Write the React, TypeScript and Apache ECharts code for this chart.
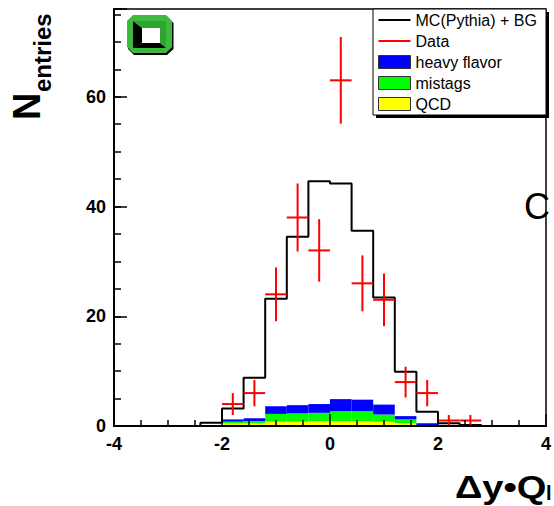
import React, { useEffect, useRef } from "react";
import * as echarts from "echarts";

// Monte Carlo (Pythia + backgrounds) histogram: lower bin edges and contents
const mcBinLow = [-2.4, -2.0, -1.6, -1.2, -0.8, -0.4, 0.0, 0.4, 0.8, 1.2, 1.6, 2.0, 2.4];
const mcCounts = [0.6, 3.2, 8.8, 23.2, 34.5, 44.6, 44.2, 35.6, 23.4, 9.9, 2.6, 0.5, 0.2];

// Stacked background components (drawn bottom to top: QCD, mistags, heavy flavor)
const bgBinLow = [-2.0, -1.6, -1.2, -0.8, -0.4, 0.0, 0.4, 0.8, 1.2, 1.6];
const qcdCounts = [0.5, 0.5, 0.8, 0.8, 0.9, 0.9, 0.9, 0.8, 0.5, 0.0];
const mistagCounts = [0.3, 0.4, 1.4, 1.5, 1.5, 1.8, 1.8, 1.3, 0.7, 0.0];
const heavyCounts = [0.4, 0.5, 1.4, 1.5, 1.6, 2.2, 2.1, 1.8, 0.6, 0.5];

// Measured data: bin centres, entries and statistical errors
const dataX = [-1.8, -1.4, -1.0, -0.6, -0.2, 0.2, 0.6, 1.0, 1.4, 1.8, 2.2, 2.6];
const dataCounts = [4, 6, 24, 38, 32, 63, 26, 23, 8, 6, 1, 1];
const dataErrors = [2.0, 2.4, 4.9, 6.2, 5.7, 7.9, 5.1, 4.8, 2.8, 2.4, 1.0, 1.0];

const binWidth = 0.4;

const FONT = '"Liberation Sans", Arial, Helvetica, sans-serif';
const BLACK = "#000000";

const seriesNames = ["MC(Pythia) + BG", "Data", "heavy flavor", "mistags", "QCD"];
const bgColors = { heavy: "#0000ff", mistags: "#00ff00", qcd: "#ffff00" };

function stackedBins(layers: number[][], index: number) {
  return bgBinLow.map((low, i) => {
    let base = 0;
    for (let k = 0; k < index; k++) base += layers[k][i];
    return [low, low + binWidth, base, base + layers[index][i]];
  });
}

function buildOption() {
  const layers = [qcdCounts, mistagCounts, heavyCounts];

  // step outline of the MC histogram
  const mcPoints: number[][] = [[mcBinLow[0], 0]];
  mcBinLow.forEach((low, i) => mcPoints.push([low, mcCounts[i]]));
  mcPoints.push([mcBinLow[mcBinLow.length - 1] + binWidth, 0]);

  const binSeries = (name: string, layerIndex: number, color: string) => ({
    name,
    type: "custom",
    z: 2,
    itemStyle: { color },
    encode: { x: [0, 1], y: [2, 3] },
    data: stackedBins(layers, layerIndex),
    renderItem: (_params: any, api: any) => {
      const p0 = api.coord([api.value(0), api.value(3)]);
      const p1 = api.coord([api.value(1), api.value(2)]);
      return {
        type: "rect",
        shape: { x: p0[0], y: p0[1], width: p1[0] - p0[0], height: p1[1] - p0[1] },
        style: { fill: color },
      };
    },
  });

  const tickLine = { color: BLACK, width: 1.5 };

  const logoPoly = (pts: number[][], fill: string) => ({
    type: "polygon",
    shape: { points: pts },
    style: { fill },
  });

  return {
    animation: false,
    backgroundColor: "#ffffff",
    grid: {
      left: 114,
      right: 6,
      top: 9,
      bottom: 80,
      show: true,
      borderColor: BLACK,
      borderWidth: 1.5,
      backgroundColor: "transparent",
    },
    xAxis: [
      {
        type: "value",
        min: -4,
        max: 4,
        interval: 2,
        position: "bottom",
        z: 5,
        axisLine: { show: true, onZero: false, lineStyle: { color: BLACK, width: 2 } },
        axisTick: { show: true, inside: true, length: 12, lineStyle: tickLine },
        minorTick: { show: true, splitNumber: 4, length: 6, lineStyle: tickLine },
        axisLabel: { margin: 9, fontFamily: FONT, fontSize: 18, fontWeight: "bold", color: BLACK },
        splitLine: { show: false },
      },
    ],
    yAxis: [
      {
        type: "value",
        min: 0,
        max: 76,
        interval: 20,
        position: "left",
        z: 5,
        axisLine: { show: true, onZero: false, lineStyle: { color: BLACK, width: 2 } },
        axisTick: { show: true, inside: true, length: 13, lineStyle: tickLine },
        axisLabel: {
          margin: 8,
          fontFamily: FONT,
          fontSize: 18,
          fontWeight: "bold",
          color: BLACK,
          formatter: (v: number) => (v % 20 === 0 ? String(v) : ""),
        },
        splitLine: { show: false },
      },
      {
        type: "value",
        min: 0,
        max: 76,
        interval: 5,
        position: "left",
        z: 5,
        axisLine: { show: false, onZero: false },
        axisTick: { show: true, inside: true, length: 7, lineStyle: tickLine },
        axisLabel: { show: false },
        splitLine: { show: false },
      },
    ],
    legend: {
      orient: "vertical",
      left: 373,
      top: 9,
      padding: [3, 6, 3, 5],
      itemGap: 5,
      itemWidth: 32,
      itemHeight: 13,
      selectedMode: false,
      z: 6,
      textStyle: { fontFamily: FONT, fontSize: 16, color: BLACK },
      data: [
        { name: seriesNames[0], icon: "path://M0,0H32V2H0Z", itemStyle: { color: BLACK } },
        { name: seriesNames[1], icon: "path://M0,0H32V2H0Z", itemStyle: { color: "#ff0000" } },
        { name: seriesNames[2], icon: "rect", itemStyle: { color: bgColors.heavy, borderColor: "#333", borderWidth: 1 } },
        { name: seriesNames[3], icon: "rect", itemStyle: { color: bgColors.mistags, borderColor: "#333", borderWidth: 1 } },
        { name: seriesNames[4], icon: "rect", itemStyle: { color: bgColors.qcd, borderColor: "#333", borderWidth: 1 } },
      ],
    },
    graphic: [
      // legend frame with drop shadow
      { type: "rect", z: 5, shape: { x: 376, y: 12, width: 173, height: 106 }, style: { fill: BLACK } },
      {
        type: "rect",
        z: 5,
        shape: { x: 373, y: 9, width: 173, height: 106 },
        style: { fill: "#ffffff", stroke: BLACK, lineWidth: 1 },
      },
      // y-axis title
      {
        type: "text",
        x: 27,
        y: 120,
        rotation: Math.PI / 2,
        style: { text: "N", fontFamily: FONT, fontSize: 38, fontWeight: "bold", fill: BLACK, align: "left", verticalAlign: "middle" },
      },
      {
        type: "text",
        x: 42,
        y: 92,
        rotation: Math.PI / 2,
        style: { text: "entries", fontFamily: FONT, fontSize: 24, fontWeight: "bold", fill: BLACK, align: "left", verticalAlign: "middle" },
      },
      // x-axis title
      {
        type: "text",
        x: 455,
        y: 487,
        scaleX: 1.19,
        style: { text: "Δy•Q", fontFamily: FONT, fontSize: 32, fontWeight: "bold", fill: BLACK, align: "left", verticalAlign: "middle" },
      },
      {
        type: "text",
        x: 546,
        y: 493,
        style: { text: "l", fontFamily: FONT, fontSize: 20, fontWeight: "bold", fill: BLACK, align: "left", verticalAlign: "middle" },
      },
      {
        type: "text",
        x: 524,
        y: 206,
        style: { text: "C", fontFamily: FONT, fontSize: 36, fill: BLACK, align: "left", verticalAlign: "middle" },
      },
      // logo
      {
        type: "group",
        x: 127,
        y: 15,
        children: [
          logoPoly([[7, 1.5], [40, 1.5], [46.5, 8], [46.5, 34], [40, 40], [7, 40], [1, 34], [1, 8]], BLACK),
          logoPoly([[6, 0], [39, 0], [45, 6], [45, 32], [39, 38], [6, 38], [0, 32], [0, 6]], "#3fb83f"),
          logoPoly([[6, 6], [15, 13], [15, 28], [6, 33]], BLACK),
          logoPoly([[6, 33], [15, 28], [33, 28], [39, 33]], BLACK),
          logoPoly([[6, 6], [39, 6], [33, 13], [15, 13]], "#2fa52f"),
          logoPoly([[39, 6], [39, 33], [33, 28], [33, 13]], "#2fa52f"),
          { type: "rect", shape: { x: 15, y: 13, width: 18, height: 15 }, style: { fill: "#ffffff" } },
        ],
      },
    ],
    series: [
      binSeries(seriesNames[4], 0, bgColors.qcd),
      binSeries(seriesNames[3], 1, bgColors.mistags),
      binSeries(seriesNames[2], 2, bgColors.heavy),
      {
        name: seriesNames[0],
        type: "line",
        z: 3,
        step: "end",
        symbol: "none",
        itemStyle: { color: BLACK },
        lineStyle: { color: BLACK, width: 2 },
        data: mcPoints,
      },
      {
        name: seriesNames[1],
        type: "custom",
        z: 4,
        itemStyle: { color: "#ff0000" },
        encode: { x: 0, y: 1 },
        data: dataX.map((x, i) => [x, dataCounts[i], dataErrors[i]]),
        renderItem: (_params: any, api: any) => {
          const x = api.value(0);
          const y = api.value(1);
          const e = api.value(2);
          const l = api.coord([x - binWidth / 2, y]);
          const r = api.coord([x + binWidth / 2, y]);
          const t = api.coord([x, y + e]);
          const b = api.coord([x, y - e]);
          const st = { stroke: "#ff0000", lineWidth: 2 };
          return {
            type: "group",
            children: [
              { type: "line", shape: { x1: l[0], y1: l[1], x2: r[0], y2: r[1] }, style: st },
              { type: "line", shape: { x1: t[0], y1: t[1], x2: b[0], y2: b[1] }, style: st },
            ],
          };
        },
      },
    ],
  };
}

export default function App() {
  const ref = useRef<HTMLDivElement>(null);
  useEffect(() => {
    if (!ref.current) return;
    const chart = echarts.init(ref.current, undefined, { renderer: "svg" });
    chart.setOption(buildOption() as any);
    return () => chart.dispose();
  }, []);
  return (
    <div
      ref={ref}
      style={{ position: "fixed", left: 0, top: 0, width: 554, height: 506, background: "#fff" }}
    />
  );
}
